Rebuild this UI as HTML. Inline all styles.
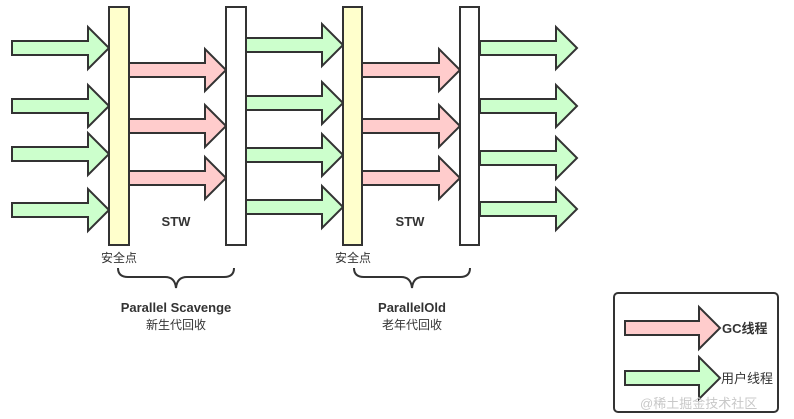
<!DOCTYPE html>
<html><head><meta charset="utf-8"><style>
html,body{margin:0;padding:0;background:#fff;}
svg{display:block;}
text{font-family:"Liberation Sans","Noto Sans CJK SC",sans-serif;fill:#333;}
</style></head><body>
<svg width="794" height="419" viewBox="0 0 794 419" xmlns="http://www.w3.org/2000/svg">
<g stroke="#333" stroke-width="2" stroke-linejoin="miter">
<g fill="#ccffcc">
<polygon points="12,41 88,41 88,27 109,48 88,69 88,55 12,55"/>
<polygon points="12,99 88,99 88,85 109,106 88,127 88,113 12,113"/>
<polygon points="12,147 88,147 88,133 109,154 88,175 88,161 12,161"/>
<polygon points="12,203 88,203 88,189 109,210 88,231 88,217 12,217"/>
<polygon points="246,38 322,38 322,24 343,45 322,66 322,52 246,52"/>
<polygon points="246,96 322,96 322,82 343,103 322,124 322,110 246,110"/>
<polygon points="246,148 322,148 322,134 343,155 322,176 322,162 246,162"/>
<polygon points="246,200 322,200 322,186 343,207 322,228 322,214 246,214"/>
<polygon points="480,41 556,41 556,27 577,48 556,69 556,55 480,55"/>
<polygon points="480,99 556,99 556,85 577,106 556,127 556,113 480,113"/>
<polygon points="480,151 556,151 556,137 577,158 556,179 556,165 480,165"/>
<polygon points="480,202 556,202 556,188 577,209 556,230 556,216 480,216"/>
<polygon points="625,371 699,371 699,357 720,378 699,399 699,385 625,385"/>
</g>
<g fill="#ffcccc">
<polygon points="129,63 205,63 205,49 226,70 205,91 205,77 129,77"/>
<polygon points="129,119 205,119 205,105 226,126 205,147 205,133 129,133"/>
<polygon points="129,171 205,171 205,157 226,178 205,199 205,185 129,185"/>
<polygon points="362,63 439,63 439,49 460,70 439,91 439,77 362,77"/>
<polygon points="362,119 439,119 439,105 460,126 439,147 439,133 362,133"/>
<polygon points="362,171 439,171 439,157 460,178 439,199 439,185 362,185"/>
<polygon points="625,321 699,321 699,307 720,328 699,349 699,335 625,335"/>
</g>
<rect x="109" y="7" width="20" height="238" fill="#ffffcc"/>
<rect x="226" y="7" width="20" height="238" fill="#fff"/>
<rect x="343" y="7" width="19" height="238" fill="#ffffcc"/>
<rect x="460" y="7" width="19" height="238" fill="#fff"/>
<rect x="614" y="293" width="164" height="119" rx="4" fill="none"/>
<path d="M118,268 Q118,277 128,277 L165,277 Q175,277 176,288 Q177,277 187,277 L224,277 Q234,277 234,268" fill="none"/>
<path d="M354,268 Q354,277 364,277 L401,277 Q411,277 412,288 Q413,277 423,277 L460,277 Q470,277 470,268" fill="none"/>
</g>
<g font-size="13" font-weight="bold" text-anchor="middle">
<text x="176" y="226">STW</text>
<text x="410" y="226">STW</text>
<text x="176" y="312">Parallel Scavenge</text>
<text x="412" y="312">ParallelOld</text>
</g>
<g font-size="12" text-anchor="middle">
<text x="119" y="262">安全点</text>
<text x="353" y="262">安全点</text>
<text x="176" y="329">新生代回收</text>
<text x="412" y="329">老年代回收</text>
</g>
<text x="722" y="333" font-size="13" font-weight="bold">GC线程</text>
<text x="721" y="383" font-size="13">用户线程</text>
<text x="640" y="408" font-size="13" fill="#ccc" style="fill:#c8c8c8">@稀土掘金技术社区</text>
</svg>
</body></html>
